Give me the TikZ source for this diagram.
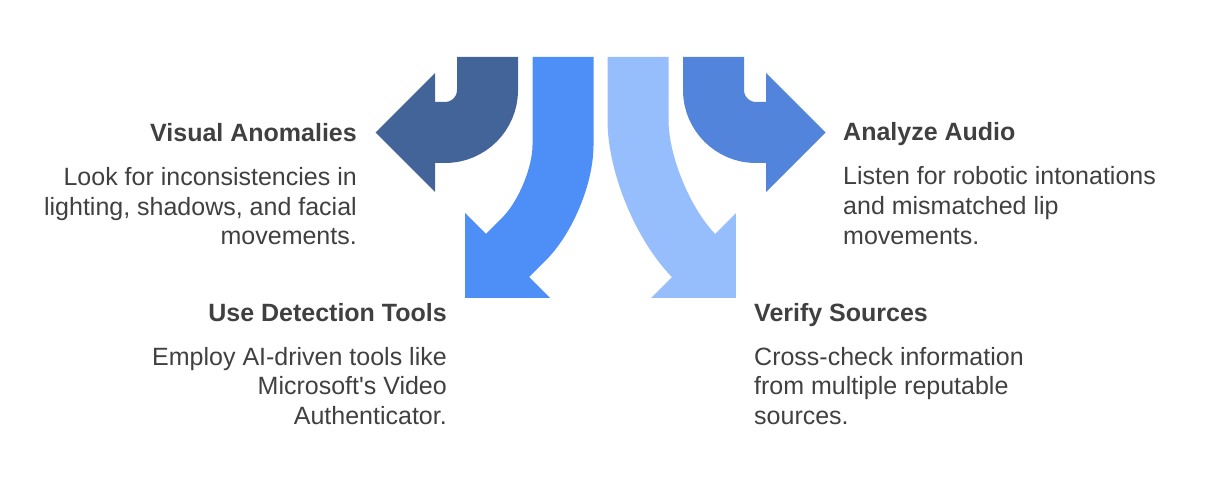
\documentclass[tikz,border=0pt]{standalone}
\usepackage{fontspec}
\setmainfont{Liberation Sans}
\definecolor{darkblue}{RGB}{66,100,153}
\definecolor{midblue}{RGB}{81,132,218}
\definecolor{brightblue}{RGB}{78,142,247}
\definecolor{lightblue}{RGB}{150,189,252}
\definecolor{textgray}{RGB}{64,64,64}
\tikzset{
  title/.style={font=\fontsize{25}{30}\selectfont\bfseries, text=textgray, inner sep=0pt},
  body/.style={font=\fontsize{25}{29.5}\selectfont, text=textgray, inner sep=0pt},
}
\begin{document}
\begin{tikzpicture}[x=1pt, y=-1pt]
            \useasboundingbox (0, 0) rectangle (1217, 494);
            % left bend
            \fill [darkblue] (435, 73) -- (375.5, 132.5) -- (435, 192) -- cycle;
            \draw [darkblue, line width=61pt, rounded corners=42.5pt] (487.5, 57) -- (487.5, 132.5) -- (434, 132.5);
            % right bend
            \fill [midblue] (766, 73) -- (825.5, 132.5) -- (766, 192) -- cycle;
            \draw [midblue, line width=61pt, rounded corners=42.5pt] (713.5, 57) -- (713.5, 132.5) -- (767, 132.5);
            % down left
            \fill [brightblue] (465.1, 213.1) -- (465.1, 297.9) -- (549.9, 297.9) -- cycle;
            \draw [brightblue, line width=61pt, rounded corners=55pt] (563, 57) -- (563, 200) -- (506.5, 256.5);
            % down right
            \fill [lightblue] (735.9, 213.1) -- (735.9, 297.9) -- (651.1, 297.9) -- cycle;
            \draw [lightblue, line width=61pt, rounded corners=80pt] (638, 57) -- (638, 200) -- (694.5, 256.5);
            % texts (body nodes sit on their last line)
            \node [title, anchor=base east] (visual) at (357, 141.5) {Visual Anomalies};
            \node [body, anchor=base east, align=right] (visualtxt) at (357, 245) {Look for inconsistencies in\\lighting, shadows, and facial\\movements.};
            \node [title, anchor=base west] (audio) at (843, 141) {Analyze Audio};
            \node [body, anchor=base west, align=left] (audiotxt) at (843, 244) {Listen for robotic intonations\\and mismatched lip\\movements.};
            \node [title, anchor=base east] (tools) at (447, 321) {Use Detection Tools};
            \node [body, anchor=base east, align=right] (toolstxt) at (447, 424) {Employ AI-driven tools like\\Microsoft\textquotesingle s Video\\Authenticator.};
            \node [title, anchor=base west] (sources) at (754, 321.5) {Verify Sources};
            \node [body, anchor=base west, align=left] (sourcestxt) at (754, 424) {Cross-check information\\from multiple reputable\\sources.};
\end{tikzpicture}
\end{document}
